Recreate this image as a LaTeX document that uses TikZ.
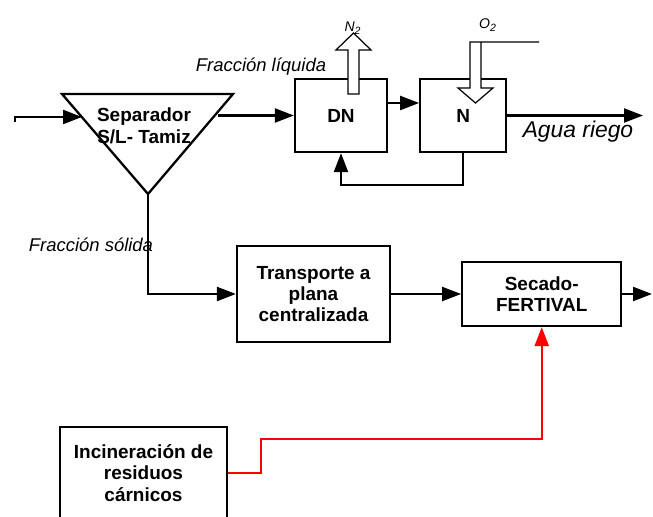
\documentclass[tikz,border=0pt]{standalone}
\usepackage{fontspec}
\setmainfont{Liberation Sans}
\usetikzlibrary{arrows.meta, positioning}

\begin{document}
\begin{tikzpicture}[
		x=0.02cm, y=-0.02cm,
		node distance=0.62cm,
		% estilos de las cajas y etiquetas
		caja/.style={draw=black, line width=1.3pt, font=\fontsize{10.8}{12.2}\selectfont\bfseries, align=center, inner sep=0pt},
		etiqueta/.style={font=\fontsize{10.5}{12}\selectfont\itshape, inner sep=0pt},
		indice/.style={font=\fontsize{8}{9}\selectfont\itshape, inner sep=0pt},
		flecha/.style={-{Triangle[length=0.38cm, width=0.28cm]}, line width=1.3pt},
		flechaRoja/.style={flecha, red},
		hueca/.style={draw=black, fill=white, line width=0.7pt},
		]
		
		\clip (0,0) rectangle (653,517);
		
		% separador
		\coordinate (sepIzq) at (62,94);
		\coordinate (sepDer) at (233,94);
		\coordinate (sepVert) at (148,194);
		\draw[line width=1.3pt] (sepIzq) -- (sepDer) -- (sepVert) -- cycle;
		\node[caja, draw=none] (sep) at (144,126) {Separador\\S/L- Tamiz};
		
		\coordinate (entrada) at (15,122);
		\coordinate (sepEnt) at (82,117);
		\coordinate (sepSal) at (218,115.5);
		
		% linea de agua
		\node[caja, minimum width=1.84cm, minimum height=1.46cm] (DN) at (341,115.5) {DN};
		\node[caja, minimum width=1.72cm, minimum height=1.46cm, right=of DN] (N) {N};
		\coordinate (salidaAgua) at (643,115.5);
		
		\draw[flecha] (entrada) |- (sepEnt);
		\draw[flecha] (sepSal) -- (DN.west);
		\draw[flecha] ([yshift=0.25cm]DN.east) -- ([yshift=0.25cm]N.west);
		\draw[flecha] (N.east) -- (salidaAgua);
		\draw[flecha] (N.south) -- ++(0,32) -| (DN.south);
		
		\node[etiqueta] (liq) at (261,67) {Fracción líquida};
		\node[etiqueta, font=\fontsize{13}{15}\selectfont\itshape] (agua) at (578,132) {Agua riego};
		
		% gases
		\draw[hueca] (348,94) -- (348,50) -- (336,50) -- (353.5,33) -- (371,50) -- (359,50) -- (359,94) -- cycle;
		\draw[hueca] (539,42) -- (470,42) -- (470,88) -- (458,88) -- (475.5,103) -- (493,88) -- (481,88) -- (481,42);
		\node[indice] (n2) at (353,28) {N\textsubscript{2}};
		\node[indice] (o2) at (488,25) {O\textsubscript{2}};
		
		% linea de solidos
		\node[etiqueta] (sol) at (91,245) {Fracción sólida};
		\node[caja, minimum width=3.06cm, minimum height=1.92cm] (trans) at (313.5,294) {Transporte a\\plana\\centralizada};
		\node[caja, minimum width=3.18cm, minimum height=1.28cm, right=1.4cm of trans] (sec) {Secado-\\FERTIVAL};
		\coordinate (salidaSec) at (652,294);
		
		\draw[flecha] (sepVert) |- (trans.west);
		\draw[flecha] (trans) -- (sec);
		\draw[flecha] (sec) -- (salidaSec);
		
		% incineracion
		\node[caja, minimum width=3.34cm, minimum height=1.84cm] (inc) at (143.5,473) {Incineración de\\residuos\\cárnicos};
		\coordinate (quiebre) at (261,439);
		\draw[flechaRoja] (inc.east) -| (quiebre) -| (sec.south);
	\end{tikzpicture}
\end{document}
